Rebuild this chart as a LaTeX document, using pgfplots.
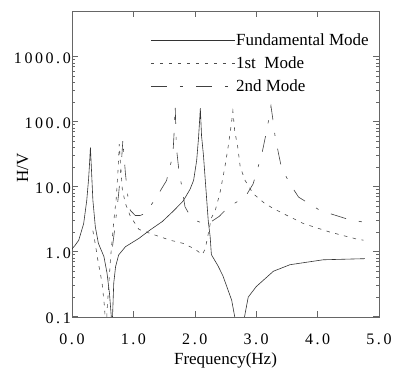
\documentclass[border=0pt]{standalone}
\usepackage{fontspec}
\setmainfont{Liberation Serif}
\newfontfamily\tickfont[LetterSpace=16]{Liberation Serif}
\usepackage{pgfplots}
\pgfplotsset{compat=1.18}
\begin{document}
\begin{tikzpicture}
\begin{axis}[name=ax, scale only axis, width=307pt, height=305.7pt,
  ymode=log, xmin=0, xmax=5, ymin=0.1, ymax=5000,
  xtick={0,1,2,3,4,5}, xticklabels={0.0,1.0,2.0,3.0,4.0,5.0},
  ytick={0.1,1,10,100,1000}, yticklabels={0.1,1.0,10.0,100.0,1000.0},
  tick align=inside, major tick length=6pt, minor tick length=3pt,
  minor x tick num=0,
  axis line style={black!60}, every tick/.style={black!60, line width=0.5pt},
  ticklabel style={font=\tickfont\fontsize{16}{16}\selectfont, text=black},
  yticklabel style={inner sep=1pt, yshift=-2pt},
  xticklabel style={yshift=-14pt},
  xlabel={Frequency(Hz)}, ylabel={H/V},
  label style={font=\fontsize{17}{17}\selectfont},
  xlabel style={yshift=-1pt},
  ylabel style={yshift=-19pt, xshift=-4pt},
  legend cell align=left,
  legend style={draw=none, fill=none, at={(0.255,0.929)}, anchor=north west,
    font=\fontsize{17}{17}\selectfont, row sep=7.5pt, inner sep=0pt,
    nodes={inner sep=1pt}},
  legend image code/.code={\draw[#1] (0pt,0pt) -- (84pt,0pt);},
]
\addplot[black!80, line width=0.6pt] coordinates {
(0,1.1) (0.05,1.25) (0.11,1.5) (0.19,2.7) (0.24,6.1) (0.27,13) (0.285,22) (0.30,40) (0.315,20) (0.34,6.2) (0.38,2.4) (0.43,1.34) (0.52,0.84) (0.57,0.47) (0.61,0.23) (0.64,0.1) (0.65,0.03) (0.66,0.1) (0.68,0.33) (0.71,0.59) (0.76,0.89) (0.87,1.19) (1.09,1.6) (1.27,2.15) (1.47,2.9) (1.65,4.2) (1.81,6.0) (1.92,9) (1.98,12.4) (2.03,25) (2.06,55) (2.08,110) (2.09,160) (2.11,60) (2.14,31) (2.18,9.5) (2.22,2.9) (2.25,1.7) (2.27,0.9) (2.38,0.6) (2.46,0.42) (2.6,0.18) (2.65,0.1) (2.73,0.01) (2.81,0.1) (2.87,0.2) (3.0,0.29) (3.28,0.5) (3.55,0.63) (4.09,0.75) (4.77,0.78)
};
\addlegendentry{Fundamental Mode}
\addplot[black!70, line width=0.6pt, dash pattern=on 3.5pt off 5.5pt] coordinates {
(0.34,2.1) (0.38,1.3) (0.42,0.75) (0.49,0.33) (0.53,0.14) (0.555,0.05) (0.57,0.12) (0.59,0.23) (0.63,0.84) (0.68,2.9) (0.72,6.5) (0.75,18) (0.77,45) (0.79,22) (0.82,9) (0.87,5.5) (0.95,3.5) (1.09,2.2) (1.35,1.8) (1.6,1.5) (1.81,1.34) (2.0,1.1) (2.12,0.9) (2.17,1.1) (2.22,1.9) (2.27,3.3) (2.33,4.2) (2.41,8) (2.49,20) (2.55,45) (2.6,100) (2.62,145) (2.65,72) (2.7,40) (2.74,20) (2.82,12.4) (2.95,7.8) (3.14,5.5) (3.28,4.6) (3.44,3.85) (3.77,2.7) (4.2,2.0) (4.66,1.54) (4.75,1.5)
};
\addlegendentry{1st\ \ Mode}
\addplot[black!75, line width=0.6pt, dash pattern=on 16pt off 13pt on 3pt off 13pt] coordinates {
(0.66,1.2) (0.70,2.4) (0.76,7.8) (0.80,20) (0.83,55) (0.84,36) (0.87,16) (0.91,7) (0.95,4.3) (1.03,3.6) (1.11,3.6) (1.19,3.85) (1.36,6.5) (1.54,12.4) (1.62,25) (1.65,40) (1.67,90) (1.68,174) (1.69,90) (1.70,40) (1.74,18) (1.79,9.8) (1.84,4.9) (1.92,3.6) (2.0,3.05) (2.1,2.8) (2.22,2.7) (2.4,3.5) (2.55,4.9) (2.82,6.9) (2.95,11) (3.09,31) (3.17,72) (3.22,130) (3.24,174) (3.27,110) (3.31,57) (3.41,19.7) (3.55,11) (3.69,6.9) (4.04,4.3) (4.47,3.2) (4.72,2.87)
};
\addlegendentry{2nd Mode}
\end{axis}
\path ([shift={(-72pt,-54.3pt)}]ax.south west) rectangle ([shift={(16pt,11pt)}]ax.north east);
\end{tikzpicture}
\end{document}
